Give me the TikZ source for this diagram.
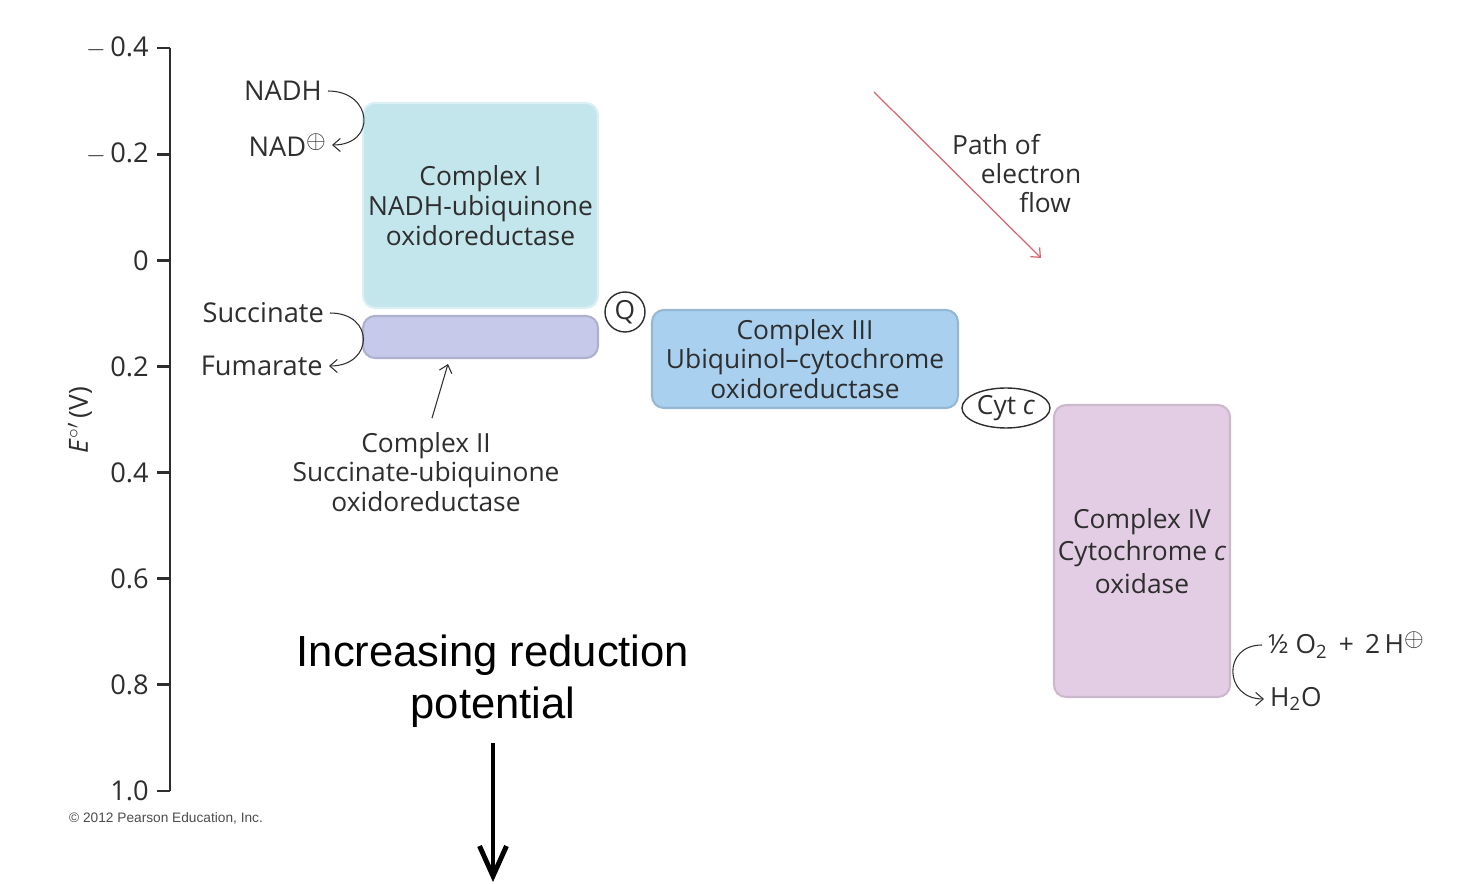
\documentclass[tikz,border=0pt]{standalone}
\usepackage{fontspec}
\setmainfont{Open Sans}
\newfontfamily\arialfont{Liberation Sans}
\usetikzlibrary{arrows.meta,shapes.geometric}
\definecolor{ink}{HTML}{2E2E2E}
\definecolor{cone}{HTML}{C3E5EC}
\definecolor{ctwo}{HTML}{C6C9EA}
\definecolor{cthree}{HTML}{A9D0EF}
\definecolor{cfour}{HTML}{E3CDE4}
\definecolor{flow}{HTML}{D8646E}
\newcommand{\swing}[3]{\draw[ptr] (#1) .. controls +(#3,0) and +(#3,0) .. (#2);}
\newcommand{\plus}{\raisebox{.55ex}{$\oplus$}}

\begin{document}
\begin{tikzpicture}[x=0.02cm,y=-0.02cm,
  lbl/.style={font=\fontsize{15}{17}\selectfont,text=ink},
  cplx/.style={rounded corners=0.24cm,align=center,inner sep=0pt,line width=1.2pt,
    font=\fontsize{15}{17}\selectfont,text=ink},
  ptr/.style={-{Straight Barb[length=1.5mm,width=2.6mm]},line width=0.6pt,draw=ink}]
\useasboundingbox (0,0) rectangle (1472,884);
% potential axis
\draw[ink,line width=1.6pt] (170,48)--(170,791);
\foreach \k/\lab in {0/{$-$\,0.4},1/{$-$\,0.2},2/0,3/0.2,4/0.4,5/0.6,6/0.8,7/1.0}{
  \draw[ink,line width=1.6pt] (157,48+106.14*\k)--(170,48+106.14*\k);
  \node[lbl,anchor=east,font=\fontsize{15.5}{17}\selectfont] (tick\k) at (155,48+106.14*\k) {\lab};}
\node[lbl,rotate=90] (elabel) at (80,420) {\textit{E}$^{\circ\prime}$\,(V)};
\node[anchor=west,font=\arialfont\fontsize{7.8}{9}\selectfont,text=black!70] (copy) at (63,818) {\textcopyright\ 2012 Pearson Education, Inc.};
% complexes
\node[cplx,fill=cone,draw=cone!60!white,minimum width=4.7cm,minimum height=4.1cm] (c1) at (480.5,205.5) {Complex I\\NADH-ubiquinone\\oxidoreductase};
\node[cplx,fill=ctwo,draw=ctwo!88!black,minimum width=4.7cm,minimum height=0.84cm] (c2) at (480.5,337) {};
\node[cplx,fill=cthree,draw=cthree!88!black,minimum width=6.12cm,minimum height=1.96cm] (c3) at (805,359) {Complex III\\Ubiquinol–cytochrome\\oxidoreductase};
\node[cplx,fill=cfour,draw=cfour!90!black,minimum width=3.52cm,minimum height=5.84cm,font=\fontsize{15}{18.5}\selectfont] (c4) at (1142,551) {Complex IV\\Cytochrome \textit{c}\\oxidase};
\node[lbl,circle,draw=ink,line width=0.8pt,minimum size=0.8cm,inner sep=0pt] (q) at (625,312) {Q};
\node[lbl,ellipse,draw=ink,line width=0.8pt,minimum width=1.76cm,minimum height=0.8cm,inner sep=0pt] (cyt) at (1006,408) {Cyt \textit{c}};
% substrates
\node[lbl,anchor=east,font=\fontsize{15.5}{17}\selectfont] (nadh) at (328,91) {NADH};
\node[lbl,anchor=east,font=\fontsize{15.5}{17}\selectfont] (nad) at (332,145) {NAD\plus};
\node[lbl,anchor=east,font=\fontsize{15.5}{17}\selectfont] (succ) at (330,313) {Succinate};
\node[lbl,anchor=east,font=\fontsize{15.5}{17}\selectfont] (fum) at (329,366) {Fumarate};
\swing{nadh.east}{nad.east}{45}
\swing{succ.east}{fum.east}{45}
\node[lbl,anchor=west] (oxy) at (1262,645) {\textonehalf\ O\textsubscript{2} \,+\, 2\,H\plus};
\node[lbl,anchor=west] (water) at (1264,699) {H\textsubscript{2}O};
\swing{oxy.west}{water.west}{-40}
% complex II label
\node[lbl,align=center,font=\fontsize{15}{16.8}\selectfont] (c2lab) at (426,472) {Complex II\\Succinate-ubiquinone\\oxidoreductase};
\coordinate (c2tip) at (448,364);
\draw[ptr] ([shift={(6,-8)}]c2lab.north)--(c2tip);
% electron flow
\coordinate (fstart) at (874,92);\coordinate (fend) at (1041,258);
\draw[flow,line width=0.7pt,-{Straight Barb[length=1.5mm,width=2.6mm]}] (fstart)--(fend);
\node[lbl] (path1) at (996,145) {Path of};
\node[lbl] (path2) at (1031,174) {electron};
\node[lbl] (path3) at (1045,203) {flow};
% reduction potential
\node[align=center,font=\arialfont\fontsize{24.8}{29.5}\selectfont] (incr) at (493,681) {Increasing reduction\\potential};
\coordinate (incend) at (493,882);
\draw[line width=2.8pt,-{Straight Barb[length=6mm,width=5.4mm]}] (incr.south)++(0,10)--(incend);
\end{tikzpicture}
\end{document}
